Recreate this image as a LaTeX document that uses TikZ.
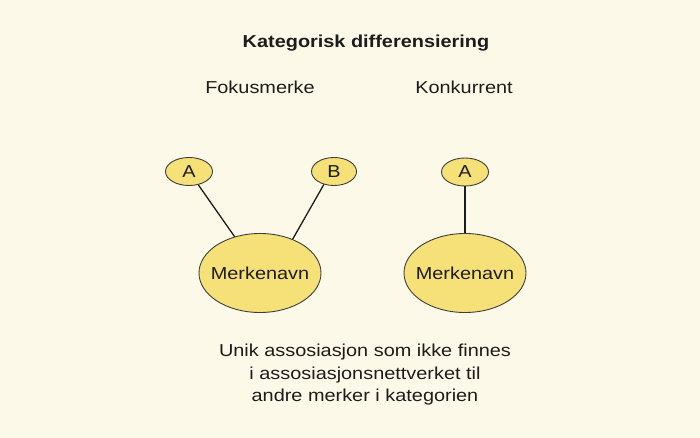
\documentclass[tikz,border=0pt]{standalone}
\usepackage{fontspec}
\setmainfont[FakeStretch=1.15]{Liberation Sans}
\usetikzlibrary{shapes.geometric}
\definecolor{bg}{HTML}{FDF9E8}
\definecolor{fillY}{HTML}{F6E078}
\definecolor{ink}{HTML}{1C1C1C}
\begin{document}
\begin{tikzpicture}[x=1pt,y=-1pt,
  txt/.style={font=\fontsize{17.3}{22.5}\selectfont, text=ink, inner sep=0pt},
  bubble/.style={ellipse, draw=ink!85, line width=0.9pt, fill=fillY, inner sep=0pt, text=ink, font=\fontsize{17.3}{20}\selectfont},
  small/.style={bubble, minimum width=47pt, minimum height=28pt},
  big/.style={bubble, minimum width=122pt, minimum height=79pt},
  link/.style={draw=ink, line width=1.3pt}]
\fill[bg] (0,0) rectangle (700,438);
\useasboundingbox (0,0) rectangle (700,438);
\node[txt, anchor=base, font=\bfseries\fontsize{17.3}{20}\selectfont] (title) at (366,48) {Kategorisk differensiering};
\node[txt, anchor=base] (fokus) at (260,94) {Fokusmerke};
\node[txt, anchor=base] (konk) at (464,94) {Konkurrent};
\node[small] (A1) at (189,171.5) {A};
\node[small, minimum width=45pt] (B1) at (334,171.5) {B};
\node[small] (A2) at (465,172) {A};
\node[big] (M1) at (260,273) {};
\node[big] (M2) at (465,273) {};
\node[txt] (M1t) at (M1) {Merkenavn};
\node[txt] (M2t) at (M2) {Merkenavn};
\draw[link] (A1) -- (M1);
\draw[link] (B1.232) -- (M1.46);
\draw[link] (A2) -- (M2);
\node[txt, anchor=base, align=center] (desc) at (365,401.5) {Unik assosiasjon som ikke finnes\\ i assosiasjonsnettverket til\\ andre merker i kategorien};
\end{tikzpicture}
\end{document}
